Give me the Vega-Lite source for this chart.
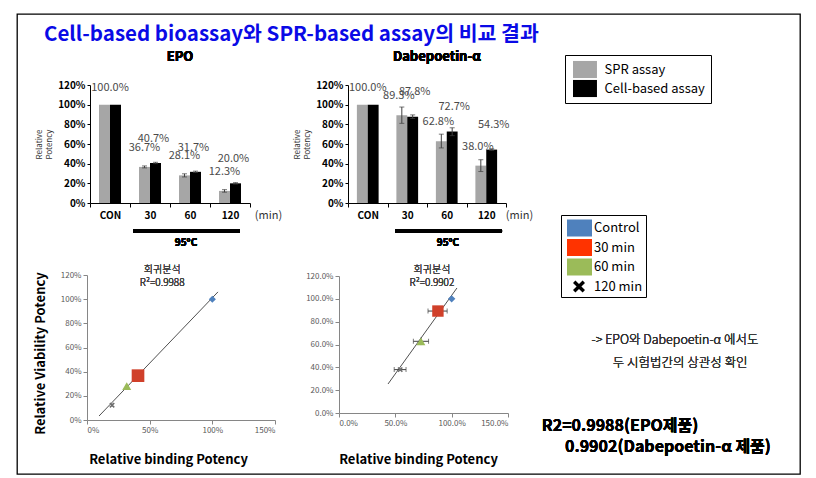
{
  "$schema": "https://vega.github.io/schema/vega-lite/v6.json",
  "width": 783,
  "height": 460,
  "autosize": {"type": "none"},
  "padding": {"left": 17, "top": 14, "right": 16, "bottom": 4},
  "background": "white",
  "config": {
    "view": {"stroke": "#000000", "strokeWidth": 1.3},
    "font": "Noto Sans CJK KR",
    "text": {"font": "Noto Sans CJK KR"},
    "axis": {"grid": false, "labelFont": "Noto Sans CJK KR", "titleFont": "Noto Sans CJK KR"},
    "legend": {"labelFont": "Noto Sans CJK KR"}
  },
  "title": {
    "text": "Cell-based bioassay와 SPR-based assay의 비교 결과",
    "anchor": "start",
    "frame": "group",
    "dx": 27,
    "offset": -31,
    "fontSize": 20.5,
    "fontWeight": "bold",
    "color": "#0A0AE6",
    "font": "Noto Sans CJK KR"
  },
  "datasets": {
    "bars": [
      {"drug": "EPO", "time": "CON", "assay": "SPR assay", "value": 1.0},
      {"drug": "EPO", "time": "CON", "assay": "Cell-based assay", "value": 1.0},
      {"drug": "EPO", "time": "30", "assay": "SPR assay", "value": 0.367, "lo": 0.357, "hi": 0.377},
      {"drug": "EPO", "time": "30", "assay": "Cell-based assay", "value": 0.407, "lo": 0.4, "hi": 0.414},
      {"drug": "EPO", "time": "60", "assay": "SPR assay", "value": 0.281, "lo": 0.265, "hi": 0.297},
      {"drug": "EPO", "time": "60", "assay": "Cell-based assay", "value": 0.317, "lo": 0.31, "hi": 0.324},
      {"drug": "EPO", "time": "120", "assay": "SPR assay", "value": 0.123, "lo": 0.11, "hi": 0.136},
      {"drug": "EPO", "time": "120", "assay": "Cell-based assay", "value": 0.2, "lo": 0.193, "hi": 0.207},
      {"drug": "Dab", "time": "CON", "assay": "SPR assay", "value": 1.0},
      {"drug": "Dab", "time": "CON", "assay": "Cell-based assay", "value": 1.0},
      {"drug": "Dab", "time": "30", "assay": "SPR assay", "value": 0.893, "lo": 0.81, "hi": 0.976},
      {"drug": "Dab", "time": "30", "assay": "Cell-based assay", "value": 0.878, "lo": 0.86, "hi": 0.896},
      {"drug": "Dab", "time": "60", "assay": "SPR assay", "value": 0.628, "lo": 0.56, "hi": 0.7},
      {"drug": "Dab", "time": "60", "assay": "Cell-based assay", "value": 0.727, "lo": 0.685, "hi": 0.765},
      {"drug": "Dab", "time": "120", "assay": "SPR assay", "value": 0.38, "lo": 0.32, "hi": 0.44},
      {"drug": "Dab", "time": "120", "assay": "Cell-based assay", "value": 0.543, "lo": 0.535, "hi": 0.551}
    ],
    "scatter": [
      {"drug": "EPO", "time": "Control", "x": 1.0, "y": 1.0},
      {"drug": "EPO", "time": "30 min", "x": 0.407, "y": 0.367, "xlo": 0.4, "xhi": 0.414, "ylo": 0.357, "yhi": 0.377},
      {"drug": "EPO", "time": "60 min", "x": 0.317, "y": 0.281, "xlo": 0.31, "xhi": 0.324, "ylo": 0.265, "yhi": 0.297},
      {"drug": "EPO", "time": "120 min", "x": 0.2, "y": 0.123, "xlo": 0.193, "xhi": 0.207, "ylo": 0.11, "yhi": 0.136},
      {"drug": "Dab", "time": "Control", "x": 1.0, "y": 1.0},
      {"drug": "Dab", "time": "30 min", "x": 0.878, "y": 0.893, "xlo": 0.79, "xhi": 0.96, "ylo": 0.875, "yhi": 0.91},
      {"drug": "Dab", "time": "60 min", "x": 0.727, "y": 0.628, "xlo": 0.66, "xhi": 0.795, "ylo": 0.595, "yhi": 0.66},
      {"drug": "Dab", "time": "120 min", "x": 0.543, "y": 0.38, "xlo": 0.49, "xhi": 0.595, "ylo": 0.37, "yhi": 0.39}
    ],
    "lines": [
      {"drug": "EPO", "x": 0.096, "y": 0.033},
      {"drug": "EPO", "x": 1.045, "y": 1.06},
      {"drug": "Dab", "x": 0.435, "y": 0.254},
      {"drug": "Dab", "x": 1.047, "y": 1.095}
    ]
  },
  "layer": [
    {
      "data": {"name": "bars"},
      "transform": [{"filter": "datum.drug == 'EPO'"}],
      "layer": [
        {
          "mark": {"type": "bar"},
          "encoding": {
            "x": {"field": "time", "type": "nominal", "sort": null,
              "scale": {"domain": ["CON", "30", "60", "120"], "range": [73, 233], "paddingInner": 0, "paddingOuter": 0},
              "axis": {"orient": "bottom", "offset": -271, "tickBand": "extent", "labelAngle": 0, "labelFontWeight": "bold", "labelFontSize": 10, "labelColor": "#000000", "domainColor": "#000000", "tickColor": "#000000", "tickSize": 4, "labelPadding": 3, "title": "(min)", "titleX": 251, "titleY": 12, "titleBaseline": "middle", "titleAlign": "center", "titleFontWeight": "normal", "titleFontSize": 11, "titleColor": "#333333"}},
            "xOffset": {"field": "assay", "type": "nominal", "sort": null,
              "scale": {"domain": ["SPR assay", "Cell-based assay"], "paddingInner": 0, "paddingOuter": 0.818}},
            "y": {"field": "value", "type": "quantitative",
              "scale": {"domain": [0, 1.2], "range": [189, 71], "nice": false},
              "axis": {"orient": "left", "offset": -73, "values": [0, 0.2, 0.4, 0.6, 0.8, 1.0, 1.2], "format": ".0%", "labelFontWeight": "bold", "labelFontSize": 10, "labelColor": "#000000", "domainColor": "#000000", "tickColor": "#000000", "tickSize": 3, "title": ["Relative", "Potency"], "titleFontSize": 8, "titleFontWeight": "normal", "titleColor": "#333333", "titlePadding": 4}},
            "color": {"field": "assay", "type": "nominal", "sort": null,
              "scale": {"domain": ["SPR assay", "Cell-based assay"], "range": ["#A6A6A6", "#000000"]},
              "legend": {"orient": "none", "legendX": 548, "legendY": 41, "title": null, "strokeColor": "#000000", "padding": 5.5, "symbolType": "M-0.72,-0.95H1.94V0.95H-0.72Z", "symbolSize": 324, "symbolStrokeWidth": 0, "labelFontSize": 13, "labelOffset": 16, "rowPadding": 1, "labelColor": "#000000"}}
          }
        },
        {
          "mark": {"type": "rule", "color": "#404040", "strokeWidth": 1},
          "encoding": {
            "x": {"field": "time", "type": "nominal"},
            "xOffset": {"field": "assay", "type": "nominal"},
            "y": {"field": "lo", "type": "quantitative"},
            "y2": {"field": "hi"}
          }
        },
        {
          "mark": {"type": "tick", "orient": "horizontal", "size": 5, "thickness": 1, "color": "#404040"},
          "encoding": {
            "x": {"field": "time", "type": "nominal"},
            "xOffset": {"field": "assay", "type": "nominal"},
            "y": {"field": "lo", "type": "quantitative"}
          }
        },
        {
          "mark": {"type": "tick", "orient": "horizontal", "size": 5, "thickness": 1, "color": "#404040"},
          "encoding": {
            "x": {"field": "time", "type": "nominal"},
            "xOffset": {"field": "assay", "type": "nominal"},
            "y": {"field": "hi", "type": "quantitative"}
          }
        },
        {
          "transform": [{"filter": "datum.time != 'CON' && datum.assay == 'SPR assay'"}],
          "mark": {"type": "text", "dy": -19, "dx": 0, "fontSize": 11, "fontWeight": "normal", "color": "#4A4A4A", "baseline": "middle"},
          "encoding": {
            "x": {"field": "time", "type": "nominal"},
            "xOffset": {"field": "assay", "type": "nominal"},
            "y": {"field": "value", "type": "quantitative"},
            "text": {"field": "value", "type": "quantitative", "format": ".1%"}
          }
        },
        {
          "transform": [{"filter": "datum.time != 'CON' && datum.assay == 'Cell-based assay'"}],
          "mark": {"type": "text", "dy": -24, "dx": -2, "fontSize": 11, "fontWeight": "normal", "color": "#4A4A4A", "baseline": "middle"},
          "encoding": {
            "x": {"field": "time", "type": "nominal"},
            "xOffset": {"field": "assay", "type": "nominal"},
            "y": {"field": "value", "type": "quantitative"},
            "text": {"field": "value", "type": "quantitative", "format": ".1%"}
          }
        },
        {
          "transform": [{"filter": "datum.time == 'CON' && datum.assay == 'SPR assay'"}],
          "mark": {"type": "text", "dy": -17, "fontSize": 11, "fontWeight": "normal", "color": "#4A4A4A", "baseline": "middle"},
          "encoding": {
            "x": {"field": "time", "type": "nominal"},
            "y": {"field": "value", "type": "quantitative"},
            "text": {"field": "value", "type": "quantitative", "format": ".1%"}
          }
        },
        {
          "mark": {"type": "rule", "color": "#000000", "strokeWidth": 3},
          "encoding": {
            "x": {"datum": "30", "bandPosition": 0.075},
            "x2": {"datum": "120", "bandPosition": 0.75},
            "y": {"datum": -0.285, "type": "quantitative"}
          }
        },
        {
          "mark": {"type": "text", "text": "95°C", "fontSize": 10, "fontWeight": "bold", "baseline": "middle", "color": "#000000"},
          "encoding": {
            "x": {"datum": "60", "bandPosition": 0.4},
            "y": {"datum": -0.407, "type": "quantitative"}
          }
        },
        {
          "mark": {"type": "text", "text": "EPO", "fontSize": 13, "fontWeight": "bold", "baseline": "middle", "color": "#000000"},
          "encoding": {
            "x": {"datum": "30", "bandPosition": 1.25},
            "y": {"datum": 1.485, "type": "quantitative"}
          }
        }
      ]
    },
    {
      "data": {"name": "bars"},
      "transform": [{"filter": "datum.drug == 'Dab'"}],
      "layer": [
        {
          "mark": {"type": "bar"},
          "encoding": {
            "x": {"field": "time", "type": "nominal", "sort": null,
              "scale": {"domain": ["CON", "30", "60", "120"], "range": [331, 489], "paddingInner": 0, "paddingOuter": 0},
              "axis": {"orient": "bottom", "offset": -271, "tickBand": "extent", "labelAngle": 0, "labelFontWeight": "bold", "labelFontSize": 10, "labelColor": "#000000", "domainColor": "#000000", "tickColor": "#000000", "tickSize": 4, "labelPadding": 3, "title": "(min)", "titleX": 502, "titleY": 12, "titleBaseline": "middle", "titleAlign": "center", "titleFontWeight": "normal", "titleFontSize": 11, "titleColor": "#333333"}},
            "xOffset": {"field": "assay", "type": "nominal", "sort": null,
              "scale": {"domain": ["SPR assay", "Cell-based assay"], "paddingInner": 0, "paddingOuter": 0.818}},
            "y": {"field": "value", "type": "quantitative",
              "scale": {"domain": [0, 1.2], "range": [189, 71], "nice": false},
              "axis": {"orient": "left", "offset": -331, "values": [0, 0.2, 0.4, 0.6, 0.8, 1.0, 1.2], "format": ".0%", "labelFontWeight": "bold", "labelFontSize": 10, "labelColor": "#000000", "domainColor": "#000000", "tickColor": "#000000", "tickSize": 3, "title": ["Relative", "Potency"], "titleFontSize": 8, "titleFontWeight": "normal", "titleColor": "#333333", "titlePadding": 4}},
            "color": {"field": "assay", "type": "nominal", "sort": null,
              "scale": {"domain": ["SPR assay", "Cell-based assay"], "range": ["#A6A6A6", "#000000"]},
              "legend": null}
          }
        },
        {
          "mark": {"type": "rule", "color": "#404040", "strokeWidth": 1},
          "encoding": {
            "x": {"field": "time", "type": "nominal"},
            "xOffset": {"field": "assay", "type": "nominal"},
            "y": {"field": "lo", "type": "quantitative"},
            "y2": {"field": "hi"}
          }
        },
        {
          "mark": {"type": "tick", "orient": "horizontal", "size": 5, "thickness": 1, "color": "#404040"},
          "encoding": {
            "x": {"field": "time", "type": "nominal"},
            "xOffset": {"field": "assay", "type": "nominal"},
            "y": {"field": "lo", "type": "quantitative"}
          }
        },
        {
          "mark": {"type": "tick", "orient": "horizontal", "size": 5, "thickness": 1, "color": "#404040"},
          "encoding": {
            "x": {"field": "time", "type": "nominal"},
            "xOffset": {"field": "assay", "type": "nominal"},
            "y": {"field": "hi", "type": "quantitative"}
          }
        },
        {
          "transform": [{"filter": "datum.time != 'CON' && datum.assay == 'SPR assay'"}],
          "mark": {"type": "text", "dy": -19, "dx": -3, "fontSize": 11, "fontWeight": "normal", "color": "#4A4A4A", "baseline": "middle"},
          "encoding": {
            "x": {"field": "time", "type": "nominal"},
            "xOffset": {"field": "assay", "type": "nominal"},
            "y": {"field": "value", "type": "quantitative"},
            "text": {"field": "value", "type": "quantitative", "format": ".1%"}
          }
        },
        {
          "transform": [{"filter": "datum.time != 'CON' && datum.assay == 'Cell-based assay'"}],
          "mark": {"type": "text", "dy": -25, "dx": 2, "fontSize": 11, "fontWeight": "normal", "color": "#4A4A4A", "baseline": "middle"},
          "encoding": {
            "x": {"field": "time", "type": "nominal"},
            "xOffset": {"field": "assay", "type": "nominal"},
            "y": {"field": "value", "type": "quantitative"},
            "text": {"field": "value", "type": "quantitative", "format": ".1%"}
          }
        },
        {
          "transform": [{"filter": "datum.time == 'CON' && datum.assay == 'SPR assay'"}],
          "mark": {"type": "text", "dy": -17, "fontSize": 11, "fontWeight": "normal", "color": "#4A4A4A", "baseline": "middle"},
          "encoding": {
            "x": {"field": "time", "type": "nominal"},
            "y": {"field": "value", "type": "quantitative"},
            "text": {"field": "value", "type": "quantitative", "format": ".1%"}
          }
        },
        {
          "mark": {"type": "rule", "color": "#000000", "strokeWidth": 3},
          "encoding": {
            "x": {"datum": "30", "bandPosition": 0.19},
            "x2": {"datum": "120", "bandPosition": 0.9},
            "y": {"datum": -0.285, "type": "quantitative"}
          }
        },
        {
          "mark": {"type": "text", "text": "95°C", "fontSize": 10, "fontWeight": "bold", "baseline": "middle", "color": "#000000"},
          "encoding": {
            "x": {"datum": "60", "bandPosition": 0.53},
            "y": {"datum": -0.407, "type": "quantitative"}
          }
        },
        {
          "mark": {"type": "text", "text": "Dabepoetin-α", "fontSize": 13, "fontWeight": "bold", "baseline": "middle", "color": "#000000"},
          "encoding": {
            "x": {"datum": "30", "bandPosition": 1.25},
            "y": {"datum": 1.485, "type": "quantitative"}
          }
        }
      ]
    },
    {
      "data": {"name": "scatter"},
      "transform": [{"filter": "datum.drug == 'EPO'"}],
      "layer": [
        {
          "data": {"name": "lines"},
          "transform": [{"filter": "datum.drug == 'EPO'"}],
          "mark": {"type": "line", "color": "#505050", "strokeWidth": 1},
          "encoding": {
            "x": {"field": "x", "type": "quantitative",
              "scale": {"domain": [0, 1.5], "range": [70, 258], "nice": false},
              "axis": {"orient": "bottom", "offset": -54, "values": [0, 0.5, 1.0, 1.5], "format": ".0%", "labelFontSize": 8, "labelColor": "#595959", "domainColor": "#868686", "tickColor": "#868686", "tickSize": 4, "title": "Relative binding Potency", "titleX": 151, "titleY": 39, "titleBaseline": "middle", "titleAlign": "center", "titleFontSize": 13, "titleFontWeight": "bold", "titleColor": "#000000"}},
            "y": {"field": "y", "type": "quantitative",
              "scale": {"domain": [0, 1.2], "range": [406, 261], "nice": false},
              "axis": {"orient": "left", "offset": -70, "values": [0, 0.2, 0.4, 0.6, 0.8, 1.0, 1.2], "format": ".0%", "labelFontSize": 8, "labelColor": "#595959", "domainColor": "#868686", "tickColor": "#868686", "tickSize": 4, "title": "Relative Viability Potency", "titleX": -47, "titleY": 339, "titleAngle": -90, "titleBaseline": "middle", "titleAlign": "center", "titleFontSize": 13, "titleFontWeight": "bold", "titleColor": "#000000"}}
          }
        },
        {
          "mark": {"type": "rule", "color": "#404040", "strokeWidth": 1},
          "encoding": {
            "x": {"field": "xlo", "type": "quantitative"},
            "x2": {"field": "xhi"},
            "y": {"field": "y", "type": "quantitative"}
          }
        },
        {
          "mark": {"type": "rule", "color": "#404040", "strokeWidth": 1},
          "encoding": {
            "x": {"field": "x", "type": "quantitative"},
            "y": {"field": "ylo", "type": "quantitative"},
            "y2": {"field": "yhi"}
          }
        },
        {
          "mark": {"type": "point", "filled": true, "opacity": 1},
          "encoding": {
            "x": {"field": "x", "type": "quantitative"},
            "y": {"field": "y", "type": "quantitative"},
            "color": {"field": "time", "type": "nominal", "sort": null,
              "scale": {"domain": ["Control", "30 min", "60 min", "120 min"], "range": ["#4F81BD", "#D0402A", "#9BBB59", "#6E6E6E"]}, "legend": null},
            "shape": {"field": "time", "type": "nominal", "sort": null,
              "scale": {"domain": ["Control", "30 min", "60 min", "120 min"], "range": ["diamond", "square", "triangle-up", "M-1,-0.6L-0.6,-1L0,-0.4L0.6,-1L1,-0.6L0.4,0L1,0.6L0.6,1L0,0.4L-0.6,1L-1,0.6L-0.4,0Z"]}, "legend": null},
            "size": {"field": "time", "type": "nominal", "sort": null,
              "scale": {"type": "ordinal", "domain": ["Control", "30 min", "60 min", "120 min"], "range": [50, 160, 80, 30]}, "legend": null}
          }
        },
        {
          "mark": {"type": "text", "text": ["회귀분석", "R²=0.9988"], "fontSize": 10, "fontWeight": 300, "lineHeight": 13, "baseline": "middle", "color": "#404040"},
          "encoding": {
            "x": {"datum": 0.6, "type": "quantitative"},
            "y": {"datum": 1.24, "type": "quantitative"}
          }
        }
      ]
    },
    {
      "data": {"name": "scatter"},
      "transform": [{"filter": "datum.drug == 'Dab'"}],
      "resolve": {"scale": {"color": "independent", "shape": "independent"}, "legend": {"color": "independent", "shape": "independent"}},
      "layer": [
        {
          "data": {"name": "lines"},
          "transform": [{"filter": "datum.drug == 'Dab'"}],
          "mark": {"type": "line", "color": "#505050", "strokeWidth": 1},
          "encoding": {
            "x": {"field": "x", "type": "quantitative",
              "scale": {"domain": [0, 1.5], "range": [322, 491], "nice": false},
              "axis": {"orient": "bottom", "offset": -61, "values": [0, 0.5, 1.0, 1.5], "format": ".1%", "labelFontSize": 8, "labelColor": "#595959", "domainColor": "#868686", "tickColor": "#868686", "tickSize": 4, "title": "Relative binding Potency", "titleX": 401, "titleY": 46, "titleBaseline": "middle", "titleAlign": "center", "titleFontSize": 13, "titleFontWeight": "bold", "titleColor": "#000000"}},
            "y": {"field": "y", "type": "quantitative",
              "scale": {"domain": [0, 1.2], "range": [399, 262], "nice": false},
              "axis": {"orient": "left", "offset": -322, "values": [0, 0.2, 0.4, 0.6, 0.8, 1.0, 1.2], "format": ".1%", "labelFontSize": 8, "labelColor": "#595959", "domainColor": "#868686", "tickColor": "#868686", "tickSize": 4, "title": null}}
          }
        },
        {
          "mark": {"type": "rule", "color": "#404040", "strokeWidth": 1},
          "encoding": {
            "x": {"field": "xlo", "type": "quantitative"},
            "x2": {"field": "xhi"},
            "y": {"field": "y", "type": "quantitative"}
          }
        },
        {
          "mark": {"type": "tick", "orient": "vertical", "size": 5, "thickness": 1, "color": "#404040"},
          "encoding": {
            "x": {"field": "xlo", "type": "quantitative"},
            "y": {"field": "y", "type": "quantitative"}
          }
        },
        {
          "mark": {"type": "tick", "orient": "vertical", "size": 5, "thickness": 1, "color": "#404040"},
          "encoding": {
            "x": {"field": "xhi", "type": "quantitative"},
            "y": {"field": "y", "type": "quantitative"}
          }
        },
        {
          "mark": {"type": "rule", "color": "#404040", "strokeWidth": 1},
          "encoding": {
            "x": {"field": "x", "type": "quantitative"},
            "y": {"field": "ylo", "type": "quantitative"},
            "y2": {"field": "yhi"}
          }
        },
        {
          "mark": {"type": "point", "filled": true, "opacity": 1},
          "encoding": {
            "x": {"field": "x", "type": "quantitative"},
            "y": {"field": "y", "type": "quantitative"},
            "color": {"field": "time", "type": "nominal", "sort": null,
              "scale": {"domain": ["Control", "30 min", "60 min", "120 min"], "range": ["#4F81BD", "#D0402A", "#9BBB59", "#6E6E6E"]}, "legend": null},
            "shape": {"field": "time", "type": "nominal", "sort": null,
              "scale": {"domain": ["Control", "30 min", "60 min", "120 min"], "range": ["diamond", "square", "triangle-up", "M-1,-0.6L-0.6,-1L0,-0.4L0.6,-1L1,-0.6L0.4,0L1,0.6L0.6,1L0,0.4L-0.6,1L-1,0.6L-0.4,0Z"]}, "legend": null},
            "size": {"field": "time", "type": "nominal", "sort": null,
              "scale": {"type": "ordinal", "domain": ["Control", "30 min", "60 min", "120 min"], "range": [55, 130, 80, 30]}, "legend": null}
          }
        },
        {
          "mark": {"type": "point", "filled": true, "opacity": 0},
          "encoding": {
            "x": {"field": "x", "type": "quantitative"},
            "y": {"field": "y", "type": "quantitative"},
            "color": {"field": "time", "type": "nominal", "sort": null,
              "scale": {"domain": ["Control", "30 min", "60 min", "120 min"], "range": ["#4F81BD", "#FF3300", "#9BBB59", "#000000"]},
              "legend": {"orient": "none", "legendX": 544, "legendY": 201, "title": null, "strokeColor": "#000000", "padding": 3, "symbolSize": 400, "symbolOpacity": 1, "symbolStrokeWidth": 0, "labelFontSize": 13, "labelOffset": 10, "rowPadding": 0.5, "labelColor": "#000000"}},
            "shape": {"field": "time", "type": "nominal", "sort": null,
              "scale": {"domain": ["Control", "30 min", "60 min", "120 min"], "range": ["M-0.7,-0.85H1.8V0.85H-0.7Z", "M-0.7,-0.85H1.8V0.85H-0.7Z", "M-0.7,-0.85H1.8V0.85H-0.7Z", "M-0.1,-0.36L0.14,-0.6L0.5,-0.24L0.86,-0.6L1.1,-0.36L0.74,0L1.1,0.36L0.86,0.6L0.5,0.24L0.14,0.6L-0.1,0.36L0.26,0Z"]},
              "legend": {"orient": "none", "legendX": 544, "legendY": 201, "title": null, "strokeColor": "#000000", "padding": 3, "symbolSize": 400, "symbolOpacity": 1, "symbolStrokeWidth": 0, "labelFontSize": 13, "labelOffset": 10, "rowPadding": 0.5, "labelColor": "#000000"}}
          }
        },
        {
          "mark": {"type": "text", "text": ["회귀분석", "R²=0.9902"], "fontSize": 10, "fontWeight": 300, "lineHeight": 13, "baseline": "middle", "color": "#404040"},
          "encoding": {
            "x": {"datum": 0.825, "type": "quantitative"},
            "y": {"datum": 1.25, "type": "quantitative"}
          }
        },
        {
          "mark": {"type": "text", "text": "-> EPO와 Dabepoetin-α 에서도", "fontSize": 12.5, "fontWeight": 300, "baseline": "middle", "align": "center", "color": "#333333"},
          "encoding": {
            "x": {"datum": 2.982, "type": "quantitative"},
            "y": {"datum": 0.639, "type": "quantitative"}
          }
        },
        {
          "mark": {"type": "text", "text": "두 시험법간의 상관성 확인", "fontSize": 12.5, "fontWeight": 300, "baseline": "middle", "align": "center", "color": "#333333"},
          "encoding": {
            "x": {"datum": 3.027, "type": "quantitative"},
            "y": {"datum": 0.438, "type": "quantitative"}
          }
        },
        {
          "mark": {"type": "text", "text": "R2=0.9988(EPO제품)", "fontSize": 16, "fontWeight": "bold", "baseline": "middle", "align": "left", "color": "#000000"},
          "encoding": {
            "x": {"datum": 1.8, "type": "quantitative"},
            "y": {"datum": -0.114, "type": "quantitative"}
          }
        },
        {
          "mark": {"type": "text", "text": "0.9902(Dabepoetin-α 제품)", "fontSize": 16, "fontWeight": "bold", "baseline": "middle", "align": "left", "color": "#000000"},
          "encoding": {
            "x": {"datum": 2.006, "type": "quantitative"},
            "y": {"datum": -0.298, "type": "quantitative"}
          }
        }
      ]
    }
  ],
  "resolve": {
    "scale": {"x": "independent", "y": "independent", "xOffset": "independent", "color": "independent", "shape": "independent", "size": "independent"},
    "axis": {"x": "independent", "y": "independent"},
    "legend": {"color": "independent", "shape": "independent", "size": "independent"}
  }
}
